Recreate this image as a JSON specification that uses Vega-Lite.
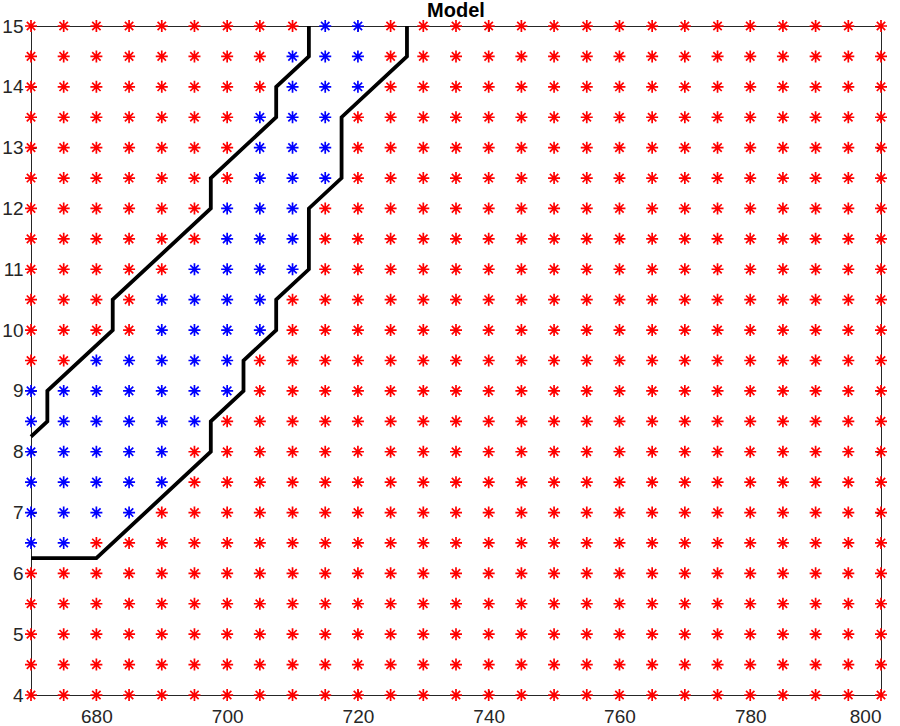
{
  "$schema": "https://vega.github.io/schema/vega-lite/v6.json",
  "width": 850,
  "height": 669,
  "autosize": "none",
  "padding": {"left": 31, "top": 26, "right": 19, "bottom": 31},
  "background": "white",
  "title": {"text": "Model", "anchor": "middle", "font": "Liberation Sans", "fontSize": 20, "fontWeight": "bold", "color": "#000000", "offset": -4},
  "config": {
    "view": {"stroke": null},
    "axis": {"grid": false, "labelFont": "Liberation Sans", "labelFontSize": 19, "labelColor": "#262626", "domainColor": "#262626", "tickColor": "#262626", "domainWidth": 1, "tickWidth": 1, "title": null}
  },
  "datasets": {
    "boundary": [
      {"line": "left", "order": 1, "x": 712.5, "y": 15},
      {"line": "left", "order": 2, "x": 712.5, "y": 14.5},
      {"line": "left", "order": 3, "x": 707.5, "y": 14},
      {"line": "left", "order": 4, "x": 707.5, "y": 13.5},
      {"line": "left", "order": 5, "x": 697.5, "y": 12.5},
      {"line": "left", "order": 6, "x": 697.5, "y": 12},
      {"line": "left", "order": 7, "x": 682.5, "y": 10.5},
      {"line": "left", "order": 8, "x": 682.5, "y": 10},
      {"line": "left", "order": 9, "x": 672.5, "y": 9},
      {"line": "left", "order": 10, "x": 672.5, "y": 8.5},
      {"line": "left", "order": 11, "x": 670, "y": 8.25},
      {"line": "right", "order": 1, "x": 727.5, "y": 15},
      {"line": "right", "order": 2, "x": 727.5, "y": 14.5},
      {"line": "right", "order": 3, "x": 717.5, "y": 13.5},
      {"line": "right", "order": 4, "x": 717.5, "y": 12.5},
      {"line": "right", "order": 5, "x": 712.5, "y": 12},
      {"line": "right", "order": 6, "x": 712.5, "y": 11},
      {"line": "right", "order": 7, "x": 707.5, "y": 10.5},
      {"line": "right", "order": 8, "x": 707.5, "y": 10},
      {"line": "right", "order": 9, "x": 702.5, "y": 9.5},
      {"line": "right", "order": 10, "x": 702.5, "y": 9},
      {"line": "right", "order": 11, "x": 697.5, "y": 8.5},
      {"line": "right", "order": 12, "x": 697.5, "y": 8},
      {"line": "right", "order": 13, "x": 680, "y": 6.25},
      {"line": "right", "order": 14, "x": 670, "y": 6.25}
    ],
    "points": [
{"x":670,"y":15,"c":"r"},{"x":675,"y":15,"c":"r"},{"x":680,"y":15,"c":"r"},{"x":685,"y":15,"c":"r"},{"x":690,"y":15,"c":"r"},{"x":695,"y":15,"c":"r"},{"x":700,"y":15,"c":"r"},{"x":705,"y":15,"c":"r"},{"x":710,"y":15,"c":"r"},{"x":715,"y":15,"c":"b"},{"x":720,"y":15,"c":"b"},{"x":725,"y":15,"c":"r"},{"x":730,"y":15,"c":"r"},{"x":735,"y":15,"c":"r"},{"x":740,"y":15,"c":"r"},{"x":745,"y":15,"c":"r"},{"x":750,"y":15,"c":"r"},{"x":755,"y":15,"c":"r"},{"x":760,"y":15,"c":"r"},{"x":765,"y":15,"c":"r"},{"x":770,"y":15,"c":"r"},{"x":775,"y":15,"c":"r"},{"x":780,"y":15,"c":"r"},{"x":785,"y":15,"c":"r"},{"x":790,"y":15,"c":"r"},{"x":795,"y":15,"c":"r"},{"x":800,"y":15,"c":"r"},
{"x":670,"y":14.5,"c":"r"},{"x":675,"y":14.5,"c":"r"},{"x":680,"y":14.5,"c":"r"},{"x":685,"y":14.5,"c":"r"},{"x":690,"y":14.5,"c":"r"},{"x":695,"y":14.5,"c":"r"},{"x":700,"y":14.5,"c":"r"},{"x":705,"y":14.5,"c":"r"},{"x":710,"y":14.5,"c":"b"},{"x":715,"y":14.5,"c":"b"},{"x":720,"y":14.5,"c":"b"},{"x":725,"y":14.5,"c":"r"},{"x":730,"y":14.5,"c":"r"},{"x":735,"y":14.5,"c":"r"},{"x":740,"y":14.5,"c":"r"},{"x":745,"y":14.5,"c":"r"},{"x":750,"y":14.5,"c":"r"},{"x":755,"y":14.5,"c":"r"},{"x":760,"y":14.5,"c":"r"},{"x":765,"y":14.5,"c":"r"},{"x":770,"y":14.5,"c":"r"},{"x":775,"y":14.5,"c":"r"},{"x":780,"y":14.5,"c":"r"},{"x":785,"y":14.5,"c":"r"},{"x":790,"y":14.5,"c":"r"},{"x":795,"y":14.5,"c":"r"},{"x":800,"y":14.5,"c":"r"},
{"x":670,"y":14,"c":"r"},{"x":675,"y":14,"c":"r"},{"x":680,"y":14,"c":"r"},{"x":685,"y":14,"c":"r"},{"x":690,"y":14,"c":"r"},{"x":695,"y":14,"c":"r"},{"x":700,"y":14,"c":"r"},{"x":705,"y":14,"c":"r"},{"x":710,"y":14,"c":"b"},{"x":715,"y":14,"c":"b"},{"x":720,"y":14,"c":"b"},{"x":725,"y":14,"c":"r"},{"x":730,"y":14,"c":"r"},{"x":735,"y":14,"c":"r"},{"x":740,"y":14,"c":"r"},{"x":745,"y":14,"c":"r"},{"x":750,"y":14,"c":"r"},{"x":755,"y":14,"c":"r"},{"x":760,"y":14,"c":"r"},{"x":765,"y":14,"c":"r"},{"x":770,"y":14,"c":"r"},{"x":775,"y":14,"c":"r"},{"x":780,"y":14,"c":"r"},{"x":785,"y":14,"c":"r"},{"x":790,"y":14,"c":"r"},{"x":795,"y":14,"c":"r"},{"x":800,"y":14,"c":"r"},
{"x":670,"y":13.5,"c":"r"},{"x":675,"y":13.5,"c":"r"},{"x":680,"y":13.5,"c":"r"},{"x":685,"y":13.5,"c":"r"},{"x":690,"y":13.5,"c":"r"},{"x":695,"y":13.5,"c":"r"},{"x":700,"y":13.5,"c":"r"},{"x":705,"y":13.5,"c":"b"},{"x":710,"y":13.5,"c":"b"},{"x":715,"y":13.5,"c":"b"},{"x":720,"y":13.5,"c":"r"},{"x":725,"y":13.5,"c":"r"},{"x":730,"y":13.5,"c":"r"},{"x":735,"y":13.5,"c":"r"},{"x":740,"y":13.5,"c":"r"},{"x":745,"y":13.5,"c":"r"},{"x":750,"y":13.5,"c":"r"},{"x":755,"y":13.5,"c":"r"},{"x":760,"y":13.5,"c":"r"},{"x":765,"y":13.5,"c":"r"},{"x":770,"y":13.5,"c":"r"},{"x":775,"y":13.5,"c":"r"},{"x":780,"y":13.5,"c":"r"},{"x":785,"y":13.5,"c":"r"},{"x":790,"y":13.5,"c":"r"},{"x":795,"y":13.5,"c":"r"},{"x":800,"y":13.5,"c":"r"},
{"x":670,"y":13,"c":"r"},{"x":675,"y":13,"c":"r"},{"x":680,"y":13,"c":"r"},{"x":685,"y":13,"c":"r"},{"x":690,"y":13,"c":"r"},{"x":695,"y":13,"c":"r"},{"x":700,"y":13,"c":"r"},{"x":705,"y":13,"c":"b"},{"x":710,"y":13,"c":"b"},{"x":715,"y":13,"c":"b"},{"x":720,"y":13,"c":"r"},{"x":725,"y":13,"c":"r"},{"x":730,"y":13,"c":"r"},{"x":735,"y":13,"c":"r"},{"x":740,"y":13,"c":"r"},{"x":745,"y":13,"c":"r"},{"x":750,"y":13,"c":"r"},{"x":755,"y":13,"c":"r"},{"x":760,"y":13,"c":"r"},{"x":765,"y":13,"c":"r"},{"x":770,"y":13,"c":"r"},{"x":775,"y":13,"c":"r"},{"x":780,"y":13,"c":"r"},{"x":785,"y":13,"c":"r"},{"x":790,"y":13,"c":"r"},{"x":795,"y":13,"c":"r"},{"x":800,"y":13,"c":"r"},
{"x":670,"y":12.5,"c":"r"},{"x":675,"y":12.5,"c":"r"},{"x":680,"y":12.5,"c":"r"},{"x":685,"y":12.5,"c":"r"},{"x":690,"y":12.5,"c":"r"},{"x":695,"y":12.5,"c":"r"},{"x":700,"y":12.5,"c":"r"},{"x":705,"y":12.5,"c":"b"},{"x":710,"y":12.5,"c":"b"},{"x":715,"y":12.5,"c":"b"},{"x":720,"y":12.5,"c":"r"},{"x":725,"y":12.5,"c":"r"},{"x":730,"y":12.5,"c":"r"},{"x":735,"y":12.5,"c":"r"},{"x":740,"y":12.5,"c":"r"},{"x":745,"y":12.5,"c":"r"},{"x":750,"y":12.5,"c":"r"},{"x":755,"y":12.5,"c":"r"},{"x":760,"y":12.5,"c":"r"},{"x":765,"y":12.5,"c":"r"},{"x":770,"y":12.5,"c":"r"},{"x":775,"y":12.5,"c":"r"},{"x":780,"y":12.5,"c":"r"},{"x":785,"y":12.5,"c":"r"},{"x":790,"y":12.5,"c":"r"},{"x":795,"y":12.5,"c":"r"},{"x":800,"y":12.5,"c":"r"},
{"x":670,"y":12,"c":"r"},{"x":675,"y":12,"c":"r"},{"x":680,"y":12,"c":"r"},{"x":685,"y":12,"c":"r"},{"x":690,"y":12,"c":"r"},{"x":695,"y":12,"c":"r"},{"x":700,"y":12,"c":"b"},{"x":705,"y":12,"c":"b"},{"x":710,"y":12,"c":"b"},{"x":715,"y":12,"c":"r"},{"x":720,"y":12,"c":"r"},{"x":725,"y":12,"c":"r"},{"x":730,"y":12,"c":"r"},{"x":735,"y":12,"c":"r"},{"x":740,"y":12,"c":"r"},{"x":745,"y":12,"c":"r"},{"x":750,"y":12,"c":"r"},{"x":755,"y":12,"c":"r"},{"x":760,"y":12,"c":"r"},{"x":765,"y":12,"c":"r"},{"x":770,"y":12,"c":"r"},{"x":775,"y":12,"c":"r"},{"x":780,"y":12,"c":"r"},{"x":785,"y":12,"c":"r"},{"x":790,"y":12,"c":"r"},{"x":795,"y":12,"c":"r"},{"x":800,"y":12,"c":"r"},
{"x":670,"y":11.5,"c":"r"},{"x":675,"y":11.5,"c":"r"},{"x":680,"y":11.5,"c":"r"},{"x":685,"y":11.5,"c":"r"},{"x":690,"y":11.5,"c":"r"},{"x":695,"y":11.5,"c":"r"},{"x":700,"y":11.5,"c":"b"},{"x":705,"y":11.5,"c":"b"},{"x":710,"y":11.5,"c":"b"},{"x":715,"y":11.5,"c":"r"},{"x":720,"y":11.5,"c":"r"},{"x":725,"y":11.5,"c":"r"},{"x":730,"y":11.5,"c":"r"},{"x":735,"y":11.5,"c":"r"},{"x":740,"y":11.5,"c":"r"},{"x":745,"y":11.5,"c":"r"},{"x":750,"y":11.5,"c":"r"},{"x":755,"y":11.5,"c":"r"},{"x":760,"y":11.5,"c":"r"},{"x":765,"y":11.5,"c":"r"},{"x":770,"y":11.5,"c":"r"},{"x":775,"y":11.5,"c":"r"},{"x":780,"y":11.5,"c":"r"},{"x":785,"y":11.5,"c":"r"},{"x":790,"y":11.5,"c":"r"},{"x":795,"y":11.5,"c":"r"},{"x":800,"y":11.5,"c":"r"},
{"x":670,"y":11,"c":"r"},{"x":675,"y":11,"c":"r"},{"x":680,"y":11,"c":"r"},{"x":685,"y":11,"c":"r"},{"x":690,"y":11,"c":"r"},{"x":695,"y":11,"c":"b"},{"x":700,"y":11,"c":"b"},{"x":705,"y":11,"c":"b"},{"x":710,"y":11,"c":"b"},{"x":715,"y":11,"c":"r"},{"x":720,"y":11,"c":"r"},{"x":725,"y":11,"c":"r"},{"x":730,"y":11,"c":"r"},{"x":735,"y":11,"c":"r"},{"x":740,"y":11,"c":"r"},{"x":745,"y":11,"c":"r"},{"x":750,"y":11,"c":"r"},{"x":755,"y":11,"c":"r"},{"x":760,"y":11,"c":"r"},{"x":765,"y":11,"c":"r"},{"x":770,"y":11,"c":"r"},{"x":775,"y":11,"c":"r"},{"x":780,"y":11,"c":"r"},{"x":785,"y":11,"c":"r"},{"x":790,"y":11,"c":"r"},{"x":795,"y":11,"c":"r"},{"x":800,"y":11,"c":"r"},
{"x":670,"y":10.5,"c":"r"},{"x":675,"y":10.5,"c":"r"},{"x":680,"y":10.5,"c":"r"},{"x":685,"y":10.5,"c":"r"},{"x":690,"y":10.5,"c":"b"},{"x":695,"y":10.5,"c":"b"},{"x":700,"y":10.5,"c":"b"},{"x":705,"y":10.5,"c":"b"},{"x":710,"y":10.5,"c":"r"},{"x":715,"y":10.5,"c":"r"},{"x":720,"y":10.5,"c":"r"},{"x":725,"y":10.5,"c":"r"},{"x":730,"y":10.5,"c":"r"},{"x":735,"y":10.5,"c":"r"},{"x":740,"y":10.5,"c":"r"},{"x":745,"y":10.5,"c":"r"},{"x":750,"y":10.5,"c":"r"},{"x":755,"y":10.5,"c":"r"},{"x":760,"y":10.5,"c":"r"},{"x":765,"y":10.5,"c":"r"},{"x":770,"y":10.5,"c":"r"},{"x":775,"y":10.5,"c":"r"},{"x":780,"y":10.5,"c":"r"},{"x":785,"y":10.5,"c":"r"},{"x":790,"y":10.5,"c":"r"},{"x":795,"y":10.5,"c":"r"},{"x":800,"y":10.5,"c":"r"},
{"x":670,"y":10,"c":"r"},{"x":675,"y":10,"c":"r"},{"x":680,"y":10,"c":"r"},{"x":685,"y":10,"c":"r"},{"x":690,"y":10,"c":"b"},{"x":695,"y":10,"c":"b"},{"x":700,"y":10,"c":"b"},{"x":705,"y":10,"c":"b"},{"x":710,"y":10,"c":"r"},{"x":715,"y":10,"c":"r"},{"x":720,"y":10,"c":"r"},{"x":725,"y":10,"c":"r"},{"x":730,"y":10,"c":"r"},{"x":735,"y":10,"c":"r"},{"x":740,"y":10,"c":"r"},{"x":745,"y":10,"c":"r"},{"x":750,"y":10,"c":"r"},{"x":755,"y":10,"c":"r"},{"x":760,"y":10,"c":"r"},{"x":765,"y":10,"c":"r"},{"x":770,"y":10,"c":"r"},{"x":775,"y":10,"c":"r"},{"x":780,"y":10,"c":"r"},{"x":785,"y":10,"c":"r"},{"x":790,"y":10,"c":"r"},{"x":795,"y":10,"c":"r"},{"x":800,"y":10,"c":"r"},
{"x":670,"y":9.5,"c":"r"},{"x":675,"y":9.5,"c":"r"},{"x":680,"y":9.5,"c":"b"},{"x":685,"y":9.5,"c":"b"},{"x":690,"y":9.5,"c":"b"},{"x":695,"y":9.5,"c":"b"},{"x":700,"y":9.5,"c":"b"},{"x":705,"y":9.5,"c":"r"},{"x":710,"y":9.5,"c":"r"},{"x":715,"y":9.5,"c":"r"},{"x":720,"y":9.5,"c":"r"},{"x":725,"y":9.5,"c":"r"},{"x":730,"y":9.5,"c":"r"},{"x":735,"y":9.5,"c":"r"},{"x":740,"y":9.5,"c":"r"},{"x":745,"y":9.5,"c":"r"},{"x":750,"y":9.5,"c":"r"},{"x":755,"y":9.5,"c":"r"},{"x":760,"y":9.5,"c":"r"},{"x":765,"y":9.5,"c":"r"},{"x":770,"y":9.5,"c":"r"},{"x":775,"y":9.5,"c":"r"},{"x":780,"y":9.5,"c":"r"},{"x":785,"y":9.5,"c":"r"},{"x":790,"y":9.5,"c":"r"},{"x":795,"y":9.5,"c":"r"},{"x":800,"y":9.5,"c":"r"},
{"x":670,"y":9,"c":"b"},{"x":675,"y":9,"c":"b"},{"x":680,"y":9,"c":"b"},{"x":685,"y":9,"c":"b"},{"x":690,"y":9,"c":"b"},{"x":695,"y":9,"c":"b"},{"x":700,"y":9,"c":"b"},{"x":705,"y":9,"c":"r"},{"x":710,"y":9,"c":"r"},{"x":715,"y":9,"c":"r"},{"x":720,"y":9,"c":"r"},{"x":725,"y":9,"c":"r"},{"x":730,"y":9,"c":"r"},{"x":735,"y":9,"c":"r"},{"x":740,"y":9,"c":"r"},{"x":745,"y":9,"c":"r"},{"x":750,"y":9,"c":"r"},{"x":755,"y":9,"c":"r"},{"x":760,"y":9,"c":"r"},{"x":765,"y":9,"c":"r"},{"x":770,"y":9,"c":"r"},{"x":775,"y":9,"c":"r"},{"x":780,"y":9,"c":"r"},{"x":785,"y":9,"c":"r"},{"x":790,"y":9,"c":"r"},{"x":795,"y":9,"c":"r"},{"x":800,"y":9,"c":"r"},
{"x":670,"y":8.5,"c":"b"},{"x":675,"y":8.5,"c":"b"},{"x":680,"y":8.5,"c":"b"},{"x":685,"y":8.5,"c":"b"},{"x":690,"y":8.5,"c":"b"},{"x":695,"y":8.5,"c":"b"},{"x":700,"y":8.5,"c":"r"},{"x":705,"y":8.5,"c":"r"},{"x":710,"y":8.5,"c":"r"},{"x":715,"y":8.5,"c":"r"},{"x":720,"y":8.5,"c":"r"},{"x":725,"y":8.5,"c":"r"},{"x":730,"y":8.5,"c":"r"},{"x":735,"y":8.5,"c":"r"},{"x":740,"y":8.5,"c":"r"},{"x":745,"y":8.5,"c":"r"},{"x":750,"y":8.5,"c":"r"},{"x":755,"y":8.5,"c":"r"},{"x":760,"y":8.5,"c":"r"},{"x":765,"y":8.5,"c":"r"},{"x":770,"y":8.5,"c":"r"},{"x":775,"y":8.5,"c":"r"},{"x":780,"y":8.5,"c":"r"},{"x":785,"y":8.5,"c":"r"},{"x":790,"y":8.5,"c":"r"},{"x":795,"y":8.5,"c":"r"},{"x":800,"y":8.5,"c":"r"},
{"x":670,"y":8,"c":"b"},{"x":675,"y":8,"c":"b"},{"x":680,"y":8,"c":"b"},{"x":685,"y":8,"c":"b"},{"x":690,"y":8,"c":"b"},{"x":695,"y":8,"c":"r"},{"x":700,"y":8,"c":"r"},{"x":705,"y":8,"c":"r"},{"x":710,"y":8,"c":"r"},{"x":715,"y":8,"c":"r"},{"x":720,"y":8,"c":"r"},{"x":725,"y":8,"c":"r"},{"x":730,"y":8,"c":"r"},{"x":735,"y":8,"c":"r"},{"x":740,"y":8,"c":"r"},{"x":745,"y":8,"c":"r"},{"x":750,"y":8,"c":"r"},{"x":755,"y":8,"c":"r"},{"x":760,"y":8,"c":"r"},{"x":765,"y":8,"c":"r"},{"x":770,"y":8,"c":"r"},{"x":775,"y":8,"c":"r"},{"x":780,"y":8,"c":"r"},{"x":785,"y":8,"c":"r"},{"x":790,"y":8,"c":"r"},{"x":795,"y":8,"c":"r"},{"x":800,"y":8,"c":"r"},
{"x":670,"y":7.5,"c":"b"},{"x":675,"y":7.5,"c":"b"},{"x":680,"y":7.5,"c":"b"},{"x":685,"y":7.5,"c":"b"},{"x":690,"y":7.5,"c":"b"},{"x":695,"y":7.5,"c":"r"},{"x":700,"y":7.5,"c":"r"},{"x":705,"y":7.5,"c":"r"},{"x":710,"y":7.5,"c":"r"},{"x":715,"y":7.5,"c":"r"},{"x":720,"y":7.5,"c":"r"},{"x":725,"y":7.5,"c":"r"},{"x":730,"y":7.5,"c":"r"},{"x":735,"y":7.5,"c":"r"},{"x":740,"y":7.5,"c":"r"},{"x":745,"y":7.5,"c":"r"},{"x":750,"y":7.5,"c":"r"},{"x":755,"y":7.5,"c":"r"},{"x":760,"y":7.5,"c":"r"},{"x":765,"y":7.5,"c":"r"},{"x":770,"y":7.5,"c":"r"},{"x":775,"y":7.5,"c":"r"},{"x":780,"y":7.5,"c":"r"},{"x":785,"y":7.5,"c":"r"},{"x":790,"y":7.5,"c":"r"},{"x":795,"y":7.5,"c":"r"},{"x":800,"y":7.5,"c":"r"},
{"x":670,"y":7,"c":"b"},{"x":675,"y":7,"c":"b"},{"x":680,"y":7,"c":"b"},{"x":685,"y":7,"c":"b"},{"x":690,"y":7,"c":"r"},{"x":695,"y":7,"c":"r"},{"x":700,"y":7,"c":"r"},{"x":705,"y":7,"c":"r"},{"x":710,"y":7,"c":"r"},{"x":715,"y":7,"c":"r"},{"x":720,"y":7,"c":"r"},{"x":725,"y":7,"c":"r"},{"x":730,"y":7,"c":"r"},{"x":735,"y":7,"c":"r"},{"x":740,"y":7,"c":"r"},{"x":745,"y":7,"c":"r"},{"x":750,"y":7,"c":"r"},{"x":755,"y":7,"c":"r"},{"x":760,"y":7,"c":"r"},{"x":765,"y":7,"c":"r"},{"x":770,"y":7,"c":"r"},{"x":775,"y":7,"c":"r"},{"x":780,"y":7,"c":"r"},{"x":785,"y":7,"c":"r"},{"x":790,"y":7,"c":"r"},{"x":795,"y":7,"c":"r"},{"x":800,"y":7,"c":"r"},
{"x":670,"y":6.5,"c":"b"},{"x":675,"y":6.5,"c":"b"},{"x":680,"y":6.5,"c":"r"},{"x":685,"y":6.5,"c":"r"},{"x":690,"y":6.5,"c":"r"},{"x":695,"y":6.5,"c":"r"},{"x":700,"y":6.5,"c":"r"},{"x":705,"y":6.5,"c":"r"},{"x":710,"y":6.5,"c":"r"},{"x":715,"y":6.5,"c":"r"},{"x":720,"y":6.5,"c":"r"},{"x":725,"y":6.5,"c":"r"},{"x":730,"y":6.5,"c":"r"},{"x":735,"y":6.5,"c":"r"},{"x":740,"y":6.5,"c":"r"},{"x":745,"y":6.5,"c":"r"},{"x":750,"y":6.5,"c":"r"},{"x":755,"y":6.5,"c":"r"},{"x":760,"y":6.5,"c":"r"},{"x":765,"y":6.5,"c":"r"},{"x":770,"y":6.5,"c":"r"},{"x":775,"y":6.5,"c":"r"},{"x":780,"y":6.5,"c":"r"},{"x":785,"y":6.5,"c":"r"},{"x":790,"y":6.5,"c":"r"},{"x":795,"y":6.5,"c":"r"},{"x":800,"y":6.5,"c":"r"},
{"x":670,"y":6,"c":"r"},{"x":675,"y":6,"c":"r"},{"x":680,"y":6,"c":"r"},{"x":685,"y":6,"c":"r"},{"x":690,"y":6,"c":"r"},{"x":695,"y":6,"c":"r"},{"x":700,"y":6,"c":"r"},{"x":705,"y":6,"c":"r"},{"x":710,"y":6,"c":"r"},{"x":715,"y":6,"c":"r"},{"x":720,"y":6,"c":"r"},{"x":725,"y":6,"c":"r"},{"x":730,"y":6,"c":"r"},{"x":735,"y":6,"c":"r"},{"x":740,"y":6,"c":"r"},{"x":745,"y":6,"c":"r"},{"x":750,"y":6,"c":"r"},{"x":755,"y":6,"c":"r"},{"x":760,"y":6,"c":"r"},{"x":765,"y":6,"c":"r"},{"x":770,"y":6,"c":"r"},{"x":775,"y":6,"c":"r"},{"x":780,"y":6,"c":"r"},{"x":785,"y":6,"c":"r"},{"x":790,"y":6,"c":"r"},{"x":795,"y":6,"c":"r"},{"x":800,"y":6,"c":"r"},
{"x":670,"y":5.5,"c":"r"},{"x":675,"y":5.5,"c":"r"},{"x":680,"y":5.5,"c":"r"},{"x":685,"y":5.5,"c":"r"},{"x":690,"y":5.5,"c":"r"},{"x":695,"y":5.5,"c":"r"},{"x":700,"y":5.5,"c":"r"},{"x":705,"y":5.5,"c":"r"},{"x":710,"y":5.5,"c":"r"},{"x":715,"y":5.5,"c":"r"},{"x":720,"y":5.5,"c":"r"},{"x":725,"y":5.5,"c":"r"},{"x":730,"y":5.5,"c":"r"},{"x":735,"y":5.5,"c":"r"},{"x":740,"y":5.5,"c":"r"},{"x":745,"y":5.5,"c":"r"},{"x":750,"y":5.5,"c":"r"},{"x":755,"y":5.5,"c":"r"},{"x":760,"y":5.5,"c":"r"},{"x":765,"y":5.5,"c":"r"},{"x":770,"y":5.5,"c":"r"},{"x":775,"y":5.5,"c":"r"},{"x":780,"y":5.5,"c":"r"},{"x":785,"y":5.5,"c":"r"},{"x":790,"y":5.5,"c":"r"},{"x":795,"y":5.5,"c":"r"},{"x":800,"y":5.5,"c":"r"},
{"x":670,"y":5,"c":"r"},{"x":675,"y":5,"c":"r"},{"x":680,"y":5,"c":"r"},{"x":685,"y":5,"c":"r"},{"x":690,"y":5,"c":"r"},{"x":695,"y":5,"c":"r"},{"x":700,"y":5,"c":"r"},{"x":705,"y":5,"c":"r"},{"x":710,"y":5,"c":"r"},{"x":715,"y":5,"c":"r"},{"x":720,"y":5,"c":"r"},{"x":725,"y":5,"c":"r"},{"x":730,"y":5,"c":"r"},{"x":735,"y":5,"c":"r"},{"x":740,"y":5,"c":"r"},{"x":745,"y":5,"c":"r"},{"x":750,"y":5,"c":"r"},{"x":755,"y":5,"c":"r"},{"x":760,"y":5,"c":"r"},{"x":765,"y":5,"c":"r"},{"x":770,"y":5,"c":"r"},{"x":775,"y":5,"c":"r"},{"x":780,"y":5,"c":"r"},{"x":785,"y":5,"c":"r"},{"x":790,"y":5,"c":"r"},{"x":795,"y":5,"c":"r"},{"x":800,"y":5,"c":"r"},
{"x":670,"y":4.5,"c":"r"},{"x":675,"y":4.5,"c":"r"},{"x":680,"y":4.5,"c":"r"},{"x":685,"y":4.5,"c":"r"},{"x":690,"y":4.5,"c":"r"},{"x":695,"y":4.5,"c":"r"},{"x":700,"y":4.5,"c":"r"},{"x":705,"y":4.5,"c":"r"},{"x":710,"y":4.5,"c":"r"},{"x":715,"y":4.5,"c":"r"},{"x":720,"y":4.5,"c":"r"},{"x":725,"y":4.5,"c":"r"},{"x":730,"y":4.5,"c":"r"},{"x":735,"y":4.5,"c":"r"},{"x":740,"y":4.5,"c":"r"},{"x":745,"y":4.5,"c":"r"},{"x":750,"y":4.5,"c":"r"},{"x":755,"y":4.5,"c":"r"},{"x":760,"y":4.5,"c":"r"},{"x":765,"y":4.5,"c":"r"},{"x":770,"y":4.5,"c":"r"},{"x":775,"y":4.5,"c":"r"},{"x":780,"y":4.5,"c":"r"},{"x":785,"y":4.5,"c":"r"},{"x":790,"y":4.5,"c":"r"},{"x":795,"y":4.5,"c":"r"},{"x":800,"y":4.5,"c":"r"},
{"x":670,"y":4,"c":"r"},{"x":675,"y":4,"c":"r"},{"x":680,"y":4,"c":"r"},{"x":685,"y":4,"c":"r"},{"x":690,"y":4,"c":"r"},{"x":695,"y":4,"c":"r"},{"x":700,"y":4,"c":"r"},{"x":705,"y":4,"c":"r"},{"x":710,"y":4,"c":"r"},{"x":715,"y":4,"c":"r"},{"x":720,"y":4,"c":"r"},{"x":725,"y":4,"c":"r"},{"x":730,"y":4,"c":"r"},{"x":735,"y":4,"c":"r"},{"x":740,"y":4,"c":"r"},{"x":745,"y":4,"c":"r"},{"x":750,"y":4,"c":"r"},{"x":755,"y":4,"c":"r"},{"x":760,"y":4,"c":"r"},{"x":765,"y":4,"c":"r"},{"x":770,"y":4,"c":"r"},{"x":775,"y":4,"c":"r"},{"x":780,"y":4,"c":"r"},{"x":785,"y":4,"c":"r"},{"x":790,"y":4,"c":"r"},{"x":795,"y":4,"c":"r"},{"x":800,"y":4,"c":"r"}
    ]
  },
  "layer": [
    {
      "data": {"name": "points"},
      "mark": {"type": "point", "shape": "M-1,0L1,0M0,-1L0,1M-0.7,-0.7L0.7,0.7M-0.7,0.7L0.7,-0.7", "filled": false, "size": 144, "strokeWidth": 1.7, "opacity": 1, "clip": false},
      "encoding": {
        "x": {"field": "x", "type": "quantitative", "scale": {"domain": [670, 800], "nice": false, "zero": false},
              "axis": {"orient": "bottom", "values": [680, 700, 720, 740, 760, 780, 800], "tickSize": -5, "labelPadding": 17, "format": "d"}},
        "y": {"field": "y", "type": "quantitative", "scale": {"domain": [4, 15], "nice": false, "zero": false},
              "axis": {"orient": "left", "values": [4, 5, 6, 7, 8, 9, 10, 11, 12, 13, 14, 15], "tickSize": -5, "labelPadding": 13, "format": "d"}},
        "color": {"field": "c", "type": "nominal", "scale": {"domain": ["b", "r"], "range": ["#0000FF", "#FF0000"]}, "legend": null}
      }
    },
    {
      "data": {"name": "boundary"},
      "mark": {"type": "line", "color": "#000000", "strokeWidth": 3.8, "clip": false},
      "encoding": {
        "x": {"field": "x", "type": "quantitative", "axis": {"orient": "top", "values": [680, 700, 720, 740, 760, 780, 800], "tickSize": -5, "labels": false}},
        "y": {"field": "y", "type": "quantitative", "axis": {"orient": "right", "values": [4, 5, 6, 7, 8, 9, 10, 11, 12, 13, 14, 15], "tickSize": -5, "labels": false}},
        "detail": {"field": "line", "type": "nominal"},
        "order": {"field": "order", "type": "quantitative"}
      }
    }
  ],
  "resolve": {"axis": {"x": "independent", "y": "independent"}}
}
